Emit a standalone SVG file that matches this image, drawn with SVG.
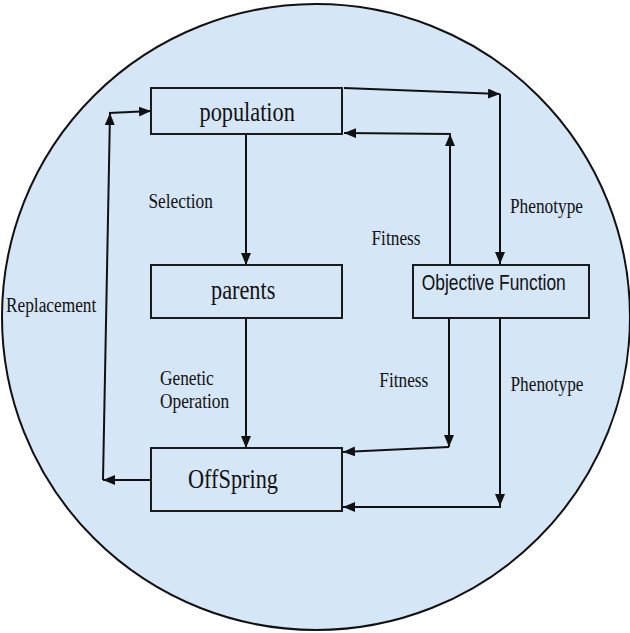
<svg xmlns="http://www.w3.org/2000/svg" width="630" height="633" viewBox="0 0 630 633">
<style>
.box{fill:none;stroke:#1a1a1a;stroke-width:2}
.ln{fill:none;stroke:#111;stroke-width:2;marker-end:url(#ah)}
.big{font-family:"Liberation Serif","Times New Roman",serif;font-size:22.3px;fill:#111}
.lbl{font-family:"Liberation Serif","Times New Roman",serif;font-size:17.3px;fill:#111}
.sans{font-family:"Liberation Sans",Arial,sans-serif;font-size:17.4px;fill:#111}
</style>
<defs>
<marker id="ah" markerWidth="12" markerHeight="10" refX="12" refY="5" orient="auto" markerUnits="userSpaceOnUse">
<path d="M0,0 L12,5 L0,10 Z" fill="#111"/>
</marker>
</defs>
<ellipse cx="316" cy="317" rx="314" ry="313" fill="#d5e6f6" stroke="#111" stroke-width="2"/>
<g id="connectors">
<path class="ln" d="M344,88 L500,94"/>
<path class="ln" d="M500,94 L500,264"/>
<path class="ln" d="M450,264 L450,134"/>
<path class="ln" d="M451,134 L344,133"/>
<path class="ln" d="M246,134 L246,265"/>
<path class="ln" d="M246,318 L246,448"/>
<path class="ln" d="M449,318 L449,447"/>
<path class="ln" d="M449,447 L343,452"/>
<path class="ln" d="M500,318 L500,506"/>
<path class="ln" d="M501,507 L343,507"/>
<path class="ln" d="M151,480 L103,480"/>
<path class="ln" d="M103,480 L110,113"/>
<path class="ln" d="M109,113 L151,111"/>
</g>
<g id="labels">
<text class="lbl" transform="translate(148.5,208.3) scale(1,1.25)">Selection</text>
<text class="lbl" transform="translate(371.5,245) scale(1,1.25)">Fitness</text>
<text class="lbl" transform="translate(510,213) scale(1,1.25)">Phenotype</text>
<text class="lbl" transform="translate(6,311.7) scale(1,1.25)">Replacement</text>
<text class="lbl" transform="translate(160,385) scale(1,1.25)">Genetic</text>
<text class="lbl" transform="translate(160,407.7) scale(1,1.25)">Operation</text>
<text class="lbl" transform="translate(379.3,386.7) scale(1,1.25)">Fitness</text>
<text class="lbl" transform="translate(510.5,391) scale(1,1.25)">Phenotype</text>
</g>
<g id="population">
<rect class="box" x="151" y="88" width="191" height="46"/>
<text class="big" transform="translate(199.5,121) scale(1,1.25)">population</text>
</g>
<g id="parents">
<rect class="box" x="151" y="265" width="191" height="53"/>
<text class="big" transform="translate(211,299.3) scale(1,1.25)">parents</text>
</g>
<g id="objective">
<rect class="box" x="413" y="265" width="176" height="53"/>
<text class="sans" transform="translate(421.7,289.5) scale(1,1.25)">Objective Function</text>
</g>
<g id="offspring">
<rect class="box" x="151" y="448" width="191" height="63"/>
<text class="big" transform="translate(188,488) scale(1,1.25)">OffSpring</text>
</g>
</svg>
